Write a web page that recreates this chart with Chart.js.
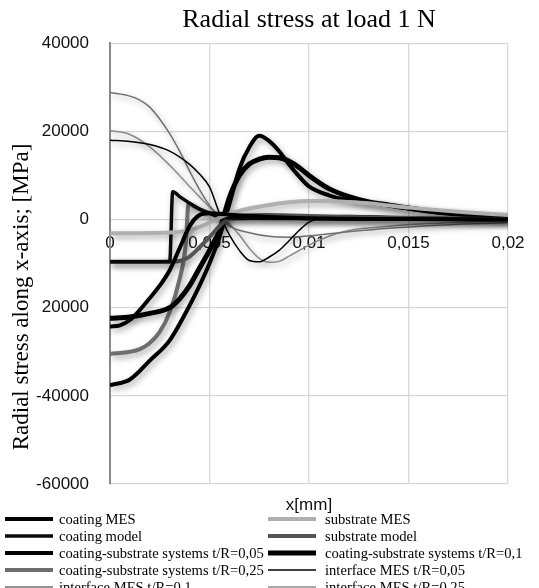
<!DOCTYPE html>
<html>
<head>
<meta charset="utf-8">
<script src="https://cdn.jsdelivr.net/npm/chart.js@4.4.0/dist/chart.umd.min.js"></script>
<style>
  html, body { margin: 0; padding: 0; background: #fff; }
</style>
</head>
<body>
<canvas id="myChart" width="539" height="588"></canvas>
<script>
// values (x in mm, stress in MPa)
const coatingMesX = [0, 0.0005, 0.001, 0.0015, 0.002, 0.0025, 0.003, 0.0035, 0.004, 0.0045, 0.005, 0.006, 0.008, 0.01, 0.015, 0.02];
const coatingMesY = [-24300, -24000, -22800, -20500, -17800, -15000, -11500, -6500, -1500, 1000, 1400, 1100, 600, 300, 100, 0];

const coatingModelX = [0, 0.001, 0.002, 0.003, 0.00315, 0.0035, 0.004, 0.0045, 0.005, 0.0055, 0.006, 0.007, 0.008, 0.01, 0.012, 0.015, 0.02];
const coatingModelY = [-9600, -9600, -9600, -9600, 6300, 5200, 3700, 2400, 1400, 700, 400, 300, 250, 200, 150, 100, 50];

const cs005X = [0, 0.001, 0.002, 0.003, 0.004, 0.0045, 0.005, 0.0055, 0.006, 0.0065, 0.007, 0.0075, 0.008, 0.0085, 0.009, 0.0095, 0.01, 0.011, 0.012, 0.013, 0.014, 0.015, 0.016, 0.017, 0.018, 0.019, 0.02];
const cs005Y = [-37600, -36300, -32000, -27400, -19500, -15000, -10000, -4000, 3500, 11500, 16400, 19000, 17800, 15500, 12500, 9800, 7500, 5500, 4400, 3800, 3200, 2500, 1800, 1300, 1000, 700, 500];

const cs01X = [0, 0.001, 0.002, 0.003, 0.0035, 0.004, 0.0045, 0.005, 0.0055, 0.006, 0.0065, 0.007, 0.0075, 0.008, 0.0085, 0.009, 0.0095, 0.01, 0.011, 0.012, 0.013, 0.014, 0.015, 0.016, 0.018, 0.02];
const cs01Y = [-22400, -22100, -21300, -20000, -18000, -15000, -11000, -7000, -2500, 5000, 10000, 12600, 13700, 14100, 14000, 13200, 11800, 10000, 7000, 5200, 4000, 3300, 2600, 2000, 1200, 700];

const cs025X = [0, 0.001, 0.0015, 0.002, 0.0025, 0.003, 0.0035, 0.0038, 0.00395, 0.0042, 0.0045, 0.005, 0.0055, 0.006, 0.007, 0.008, 0.01, 0.012, 0.015, 0.02];
const cs025Y = [-30500, -30000, -29400, -28000, -25500, -21000, -13500, -6000, 3600, 3000, 2300, 1500, 500, 200, 300, 400, 400, 300, 200, 100];

const substrateMesX = [0, 0.001, 0.002, 0.003, 0.0035, 0.004, 0.0045, 0.005, 0.0055, 0.006, 0.007, 0.008, 0.009, 0.01, 0.011, 0.012, 0.013, 0.014, 0.015, 0.016, 0.018, 0.02];
const substrateMesY = [-3100, -3100, -3050, -2950, -2800, -2400, -1700, -700, 400, 1300, 2500, 3300, 3900, 4200, 4200, 4000, 3700, 3200, 2700, 2300, 1600, 1000];

const substrateModelX = [0, 0.001, 0.002, 0.003, 0.0035, 0.004, 0.0045, 0.005, 0.0055, 0.006, 0.007, 0.008, 0.009, 0.01, 0.012, 0.014, 0.016, 0.018, 0.02];
const substrateModelY = [-9600, -9600, -9600, -9550, -9400, -8400, -6300, -4000, -1500, 300, 900, 1000, 900, 800, 600, 400, 300, 200, 100];

const iface005X = [0, 0.001, 0.002, 0.003, 0.004, 0.0045, 0.005, 0.0055, 0.006, 0.0065, 0.007, 0.0075, 0.008, 0.0085, 0.009, 0.0095, 0.01, 0.011, 0.012, 0.014, 0.016, 0.02];
const iface005Y = [18000, 17700, 17000, 15500, 12500, 10300, 7400, 1400, -3500, -7000, -9300, -9600, -8500, -7000, -4800, -2500, -600, 700, 900, 700, 500, 200];

const iface01X = [0, 0.001, 0.0015, 0.002, 0.003, 0.0035, 0.004, 0.0045, 0.005, 0.0055, 0.006, 0.007, 0.008, 0.009, 0.01, 0.012, 0.014, 0.016, 0.02];
const iface01Y = [28800, 28000, 27100, 25500, 19500, 15500, 11000, 6800, 3200, 600, -1500, -3000, -3800, -4000, -3700, -2800, -2000, -1400, -700];

const iface025X = [0, 0.001, 0.002, 0.003, 0.004, 0.005, 0.0055, 0.006, 0.0065, 0.007, 0.0075, 0.008, 0.0085, 0.009, 0.01, 0.011, 0.012, 0.013, 0.014, 0.016, 0.02];
const iface025Y = [20200, 19300, 16500, 12300, 7500, 2800, 800, -1000, -3500, -6500, -8800, -9700, -9500, -8300, -5800, -3800, -2500, -1900, -1500, -900, -300];

const yTickValues = [40000, 20000, 0, -20000, -40000, -60000];
const yTickLabels = ['40000', '20000', '0', '20000', '-40000', '-60000'];

const serif = '"Liberation Serif", "Times New Roman", serif';
const sans = '"Liberation Sans", Arial, sans-serif';

function pts(xs, ys) {
  return xs.map(function(x, i) { return {x: x, y: ys[i]}; });
}

function series(label, xs, ys, color, width) {
  return {
    label: label,
    data: pts(xs, ys),
    borderColor: color,
    backgroundColor: color,
    borderWidth: width,
    pointRadius: 0,
    cubicInterpolationMode: 'monotone',
    fill: false
  };
}

// soft drop shadow like the excel glow on every line
const shadowPlugin = {
  id: 'shadow',
  beforeDatasetDraw(chart) {
    const ctx = chart.ctx;
    ctx.save();
    ctx.shadowColor = 'rgba(0,0,0,0.35)';
    ctx.shadowBlur = 6;
    ctx.shadowOffsetX = 2;
    ctx.shadowOffsetY = 3;
  },
  afterDatasetDraw(chart) {
    chart.ctx.restore();
  }
};

// y title (sits lower than the plot centre), x title and two-column legend
const textPlugin = {
  id: 'extraText',
  afterDraw(chart) {
    const ctx = chart.ctx;
    const area = chart.chartArea;
    ctx.save();
    ctx.fillStyle = '#000';
    ctx.font = '23px ' + serif;
    ctx.textAlign = 'center';
    ctx.textBaseline = 'middle';
    ctx.translate(22, 297);
    ctx.rotate(-Math.PI / 2);
    ctx.fillText('Radial stress along x-axis; [MPa]', 0, 0);
    ctx.restore();

    ctx.save();
    ctx.fillStyle = '#111';
    ctx.font = '17px ' + sans;
    ctx.textAlign = 'center';
    ctx.textBaseline = 'middle';
    ctx.fillText('x[mm]', (area.left + area.right) / 2, 505);

    ctx.font = '14.6px ' + serif;
    ctx.textAlign = 'left';
    chart.data.datasets.forEach(function(ds, i) {
      const col = i % 2;
      const row = Math.floor(i / 2);
      const x0 = col === 0 ? 5 : 268;
      const y = 519 + row * 17;
      ctx.strokeStyle = ds.borderColor;
      ctx.lineWidth = ds.borderWidth;
      ctx.beginPath();
      ctx.moveTo(x0, y);
      ctx.lineTo(x0 + 48, y);
      ctx.stroke();
      ctx.fillStyle = '#000';
      ctx.fillText(ds.label, x0 + (col === 0 ? 54 : 57), y + 1);
    });
    ctx.restore();
  }
};

const ctx = document.getElementById('myChart').getContext('2d');
const chart = new Chart(ctx, {
  type: 'line',
  data: {
    datasets: [
      series('coating MES', coatingMesX, coatingMesY, '#000000', 4),
      series('substrate MES', substrateMesX, substrateMesY, '#b0b0b0', 4),
      series('coating model', coatingModelX, coatingModelY, '#0a0a0a', 3.5),
      series('substrate model', substrateModelX, substrateModelY, '#555555', 4),
      series('coating-substrate systems t/R=0,05', cs005X, cs005Y, '#000000', 4),
      series('coating-substrate systems t/R=0,1', cs01X, cs01Y, '#000000', 5),
      series('coating-substrate systems t/R=0,25', cs025X, cs025Y, '#6e6e6e', 4),
      series('interface MES t/R=0,05', iface005X, iface005Y, '#000000', 1.5),
      series('interface MES t/R=0,1', iface01X, iface01Y, '#707070', 1.5),
      series('interface MES t/R=0,25', iface025X, iface025Y, '#8c8c8c', 1.5)
    ]
  },
  options: {
    responsive: false,
    animation: false,
    layout: { padding: { left: 0, right: 31, top: 0, bottom: 104 } },
    plugins: {
      legend: { display: false },
      tooltip: { enabled: false },
      title: {
        display: true,
        fullSize: false,
        text: 'Radial stress at load 1 N',
        color: '#000',
        font: { family: serif, size: 26, weight: 'normal' },
        padding: { top: 5, bottom: 7 }
      }
    },
    scales: {
      x: {
        type: 'linear',
        position: { y: 0 },
        min: 0,
        max: 0.02,
        border: { display: false },
        grid: { color: '#d9d9d9', lineWidth: 1.3, drawTicks: false },
        ticks: {
          stepSize: 0.005,
          padding: 14,
          color: '#111',
          font: { family: sans, size: 17 },
          callback: function(v) { return String(Number(v.toFixed(3))).replace('.', ','); }
        }
      },
      y: {
        min: -60000,
        max: 40000,
        border: { display: true, color: '#8a8a8a', width: 2 },
        grid: { color: '#d9d9d9', lineWidth: 1.3, drawTicks: false },
        ticks: {
          stepSize: 20000,
          padding: 21,
          color: '#111',
          font: { family: sans, size: 17 },
          callback: function(v) {
            const k = yTickValues.indexOf(v);
            return k >= 0 ? yTickLabels[k] : '';
          }
        },
        afterFit: function(scale) { scale.width = 110; }
      }
    }
  },
  plugins: [shadowPlugin, textPlugin]
});
</script>
</body>
</html>
